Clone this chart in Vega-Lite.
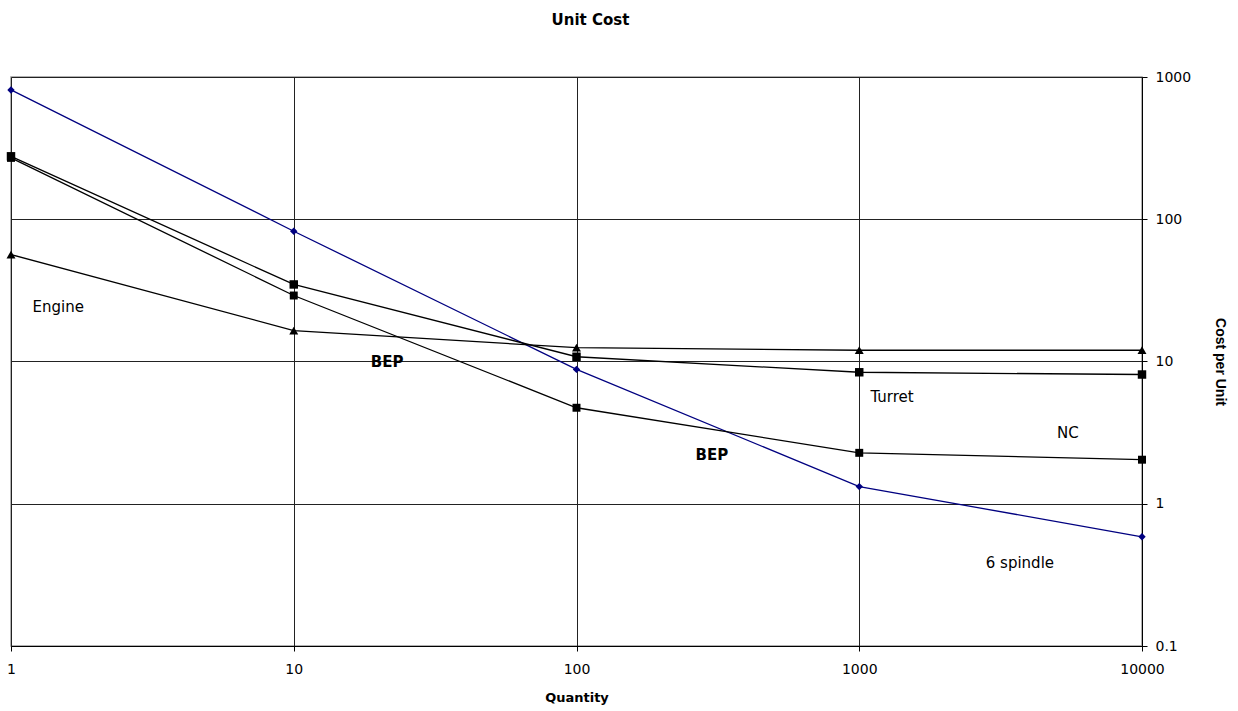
{
  "$schema": "https://vega.github.io/schema/vega-lite/v6.json",
  "width": 1131,
  "height": 569,
  "autosize": {"type": "none"},
  "padding": {"left": 11, "top": 77, "right": 96, "bottom": 65},
  "background": "white",
  "title": {"text": "Unit Cost", "font": "DejaVu Sans", "fontSize": 15, "fontWeight": "bold", "color": "black", "offset": 42, "anchor": "middle", "dx": 14},
  "config": {
    "view": {"stroke": "#999999", "strokeWidth": 1.5},
    "font": "DejaVu Sans"
  },
  "datasets": {
    "series": [
      {"series": "6 spindle", "qty": 1, "cost": 811},
      {"series": "6 spindle", "qty": 10, "cost": 82.4},
      {"series": "6 spindle", "qty": 100, "cost": 8.8},
      {"series": "6 spindle", "qty": 1000, "cost": 1.32},
      {"series": "6 spindle", "qty": 10000, "cost": 0.586},
      {"series": "NC", "qty": 1, "cost": 270},
      {"series": "NC", "qty": 10, "cost": 29.1},
      {"series": "NC", "qty": 100, "cost": 4.73},
      {"series": "NC", "qty": 1000, "cost": 2.28},
      {"series": "NC", "qty": 10000, "cost": 2.04},
      {"series": "Turret", "qty": 1, "cost": 277},
      {"series": "Turret", "qty": 10, "cost": 34.8},
      {"series": "Turret", "qty": 100, "cost": 10.8},
      {"series": "Turret", "qty": 1000, "cost": 8.4},
      {"series": "Turret", "qty": 10000, "cost": 8.1},
      {"series": "Engine", "qty": 1, "cost": 56.5},
      {"series": "Engine", "qty": 10, "cost": 16.5},
      {"series": "Engine", "qty": 100, "cost": 12.5},
      {"series": "Engine", "qty": 1000, "cost": 12.0},
      {"series": "Engine", "qty": 10000, "cost": 12.0}
    ],
    "labels": [
      {"label": "Engine", "qty": 1.47, "cost": 24},
      {"label": "Turret", "qty": 1306, "cost": 5.67},
      {"label": "NC", "qty": 5470, "cost": 3.16},
      {"label": "6 spindle", "qty": 3700, "cost": 0.385}
    ],
    "boldLabels": [
      {"label": "BEP", "qty": 21.4, "cost": 10},
      {"label": "BEP", "qty": 301, "cost": 2.21}
    ]
  },
  "layer": [
    {
      "data": {"name": "series"},
      "mark": {"type": "line", "strokeWidth": 1.3},
      "encoding": {
        "x": {"field": "qty", "type": "quantitative",
              "scale": {"type": "log", "domain": [1, 10000], "nice": false},
              "axis": {"title": "Quantity", "titleFontWeight": "bold", "titleFontSize": 13, "titleColor": "black", "titlePadding": 15, "titleFont": "DejaVu Sans",
                       "values": [1, 10, 100, 1000, 10000], "format": "d", "labelFontSize": 14, "labelColor": "black", "labelPadding": 11,
                       "grid": true, "gridColor": "#222222", "gridWidth": 1, "domainColor": "black", "tickColor": "black", "tickSize": 5, "labelFlush": false}},
        "y": {"field": "cost", "type": "quantitative",
              "scale": {"type": "log", "domain": [0.1, 1000], "nice": false},
              "axis": {"orient": "right", "title": "Cost per Unit", "titleFont": "Liberation Sans", "titleFontWeight": "bold", "titleFontSize": 14, "titleColor": "black", "titlePadding": 22,
                       "values": [0.1, 1, 10, 100, 1000], "format": "~g", "labelFontSize": 14, "labelColor": "black", "labelPadding": 8,
                       "grid": true, "gridColor": "#222222", "gridWidth": 1, "domainColor": "black", "tickColor": "black", "tickSize": 5}},
        "color": {"field": "series", "type": "nominal", "legend": null,
                  "scale": {"domain": ["6 spindle", "NC", "Turret", "Engine"], "range": ["#000080", "black", "black", "black"]}},
        "detail": {"field": "series"}
      }
    },
    {
      "data": {"name": "series"},
      "mark": {"type": "point", "filled": true, "opacity": 1},
      "encoding": {
        "x": {"field": "qty", "type": "quantitative"},
        "y": {"field": "cost", "type": "quantitative"},
        "color": {"field": "series", "type": "nominal", "legend": null},
        "shape": {"field": "series", "type": "nominal", "legend": null,
                  "scale": {"domain": ["6 spindle", "NC", "Turret", "Engine"], "range": ["diamond", "square", "square", "triangle-up"]}},
        "size": {"field": "series", "type": "nominal", "legend": null,
                 "scale": {"domain": ["6 spindle", "NC", "Turret", "Engine"], "range": [55, 80, 80, 80]}}
      }
    },
    {
      "data": {"name": "labels"},
      "mark": {"type": "text", "fontSize": 15, "color": "black", "align": "center", "baseline": "middle", "font": "DejaVu Sans"},
      "encoding": {
        "x": {"field": "qty", "type": "quantitative"},
        "y": {"field": "cost", "type": "quantitative"},
        "text": {"field": "label"}
      }
    },
    {
      "data": {"name": "boldLabels"},
      "mark": {"type": "text", "fontSize": 15, "fontWeight": "bold", "color": "black", "align": "center", "baseline": "middle", "font": "DejaVu Sans"},
      "encoding": {
        "x": {"field": "qty", "type": "quantitative"},
        "y": {"field": "cost", "type": "quantitative"},
        "text": {"field": "label"}
      }
    }
  ]
}
